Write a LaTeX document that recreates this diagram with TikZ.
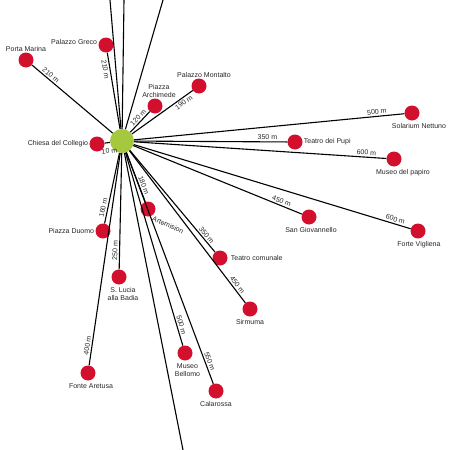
\documentclass[tikz,border=0pt]{standalone}
\usepackage{fontspec}
\setmainfont{Liberation Sans}
\usetikzlibrary{positioning}
\definecolor{spotred}{RGB}{210,16,46}
\definecolor{hubgreen}{RGB}{166,200,62}

\begin{document}
\begin{tikzpicture}[x=1pt,y=-1pt]
\tikzset{
  spot/.style={circle,fill=spotred,minimum size=15pt,inner sep=0pt},
  hubnode/.style={circle,fill=hubgreen,minimum size=24pt,inner sep=0pt},
  place/.style={font=\fontsize{7}{8}\selectfont,text=black!85,inner sep=1pt,align=center},
  spoke/.style={line width=1.1pt},
  dist/.style={font=\fontsize{7}{8}\selectfont,text=black!85,sloped,inner sep=1.5pt}
}
\useasboundingbox (0,0) rectangle (450,450);
\clip (0,0) rectangle (450,450);
\node[hubnode] (hub) at (122,141) {};
\node[spot,label={[place]above:Porta Marina}] (n_porta) at (26,60) {};
\node[spot,label={[place,yshift=3pt]left:Palazzo Greco}] (n_greco) at (106,45) {};
\node[spot,label={[place,xshift=4pt]above:Piazza\\Archimede}] (n_archimede) at (155,106) {};
\node[spot,label={[place,xshift=5pt]above:Palazzo Montalto}] (n_montalto) at (199,86) {};
\node[spot,label={[place]left:Chiesa del Collegio}] (n_collegio) at (97,144) {};
\node[spot,label={[place,xshift=7pt,label distance=2pt]below:Solarium Nettuno}] (n_solarium) at (412,113) {};
\node[spot,label={[place]right:Teatro dei Pupi}] (n_pupi) at (295,142) {};
\node[spot,label={[place,xshift=9pt,label distance=2pt]below:Museo del papiro}] (n_papiro) at (394,159) {};
\node[spot,label={[place,xshift=2pt,label distance=2pt]below:San Giovannello}] (n_giovannello) at (309,217) {};
\node[spot,label={[place,xshift=1pt,label distance=2pt]below:Forte Vigliena}] (n_vigliena) at (418,231) {};
\node[spot,label={[place,label distance=2pt]right:Teatro comunale}] (n_comunale) at (220,258) {};
\node[spot,label={[place,label distance=2pt]below:Sirmuma}] (n_sirmuma) at (250,309) {};
\node[spot,label={[place,rotate=-24,anchor=north west]south east:Artemision}] (n_artemision) at (148,209) {};
\node[spot,label={[place]left:Piazza Duomo}] (n_duomo) at (103,231) {};
\node[spot,label={[place,xshift=4pt,label distance=2pt]below:S. Lucia\\alla Badia}] (n_lucia) at (119,277) {};
\node[spot,label={[place,xshift=3pt,label distance=2pt]below:Fonte Aretusa}] (n_aretusa) at (88,373) {};
\node[spot,label={[place,xshift=2.5pt,label distance=2pt]below:Museo\\Bellomo}] (n_bellomo) at (185,353) {};
\node[spot,label={[place,label distance=2pt]below:Calarossa}] (n_calarossa) at (216,391) {};
% spokes running off the page
\coordinate (top_a) at (110,0);
\coordinate (top_b) at (124,0);
\coordinate (top_c) at (163,0);
\coordinate (bot_a) at (183,450);
\draw[spoke] (hub) -- (top_a);
\draw[spoke] (hub) -- (top_b);
\draw[spoke] (hub) -- (top_c);
\draw[spoke] (hub) -- (bot_a);
% spokes with distances
\draw[spoke] (hub) -- node[dist,pos=.80,above]{210 m} (n_porta);
\draw[spoke] (hub) -- node[dist,pos=.79,below]{210 m} (n_greco);
\draw[spoke] (hub) -- node[dist,pos=.57,above]{120 m} (n_archimede);
\draw[spoke] (hub) -- node[dist,pos=.81,below]{190 m} (n_montalto);
\draw[spoke] (hub) -- node[dist,pos=.3,below=4pt]{10 m} (n_collegio);
\draw[spoke] (hub) -- node[dist,pos=.90,above]{500 m} (n_solarium);
\draw[spoke] (hub) -- node[dist,pos=.87,above]{350 m} (n_pupi);
\draw[spoke] (hub) -- node[dist,pos=.92,above]{600 m} (n_papiro);
\draw[spoke] (hub) -- node[dist,pos=.87,above]{450 m} (n_giovannello);
\draw[spoke] (hub) -- node[dist,pos=.94,above]{600 m} (n_vigliena);
\draw[spoke] (hub) -- node[dist,pos=.86,above]{350 m} (n_comunale);
\draw[spoke] (hub) -- node[dist,pos=.90,above]{450 m} (n_sirmuma);
\draw[spoke] (hub) -- node[dist,pos=.70,above]{180 m} (n_artemision);
\draw[spoke] (hub) -- node[dist,pos=.79,above]{160 m} (n_duomo);
\draw[spoke] (hub) -- node[dist,pos=.84,above]{250 m} (n_lucia);
\draw[spoke] (hub) -- node[dist,pos=.91,above]{400 m} (n_aretusa);
\draw[spoke] (hub) -- node[dist,pos=.90,above]{500 m} (n_bellomo);
\draw[spoke] (hub) -- node[dist,pos=.91,above]{550 m} (n_calarossa);
\end{tikzpicture}
\end{document}
